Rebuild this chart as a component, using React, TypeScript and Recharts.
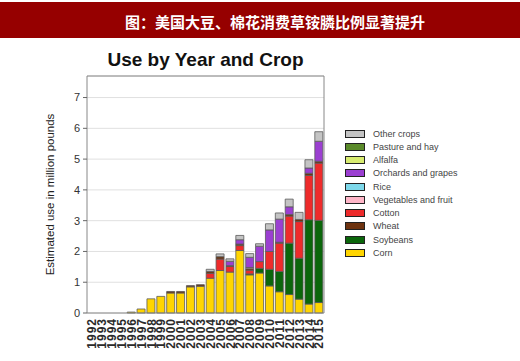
import React from 'react';
import { BarChart, Bar, XAxis, YAxis, CartesianGrid } from 'recharts';

const years = [1992, 1993, 1994, 1995, 1996, 1997, 1998, 1999, 2000, 2001, 2002, 2003,
  2004, 2005, 2006, 2007, 2008, 2009, 2010, 2011, 2012, 2013, 2014, 2015];

const corn = [0, 0, 0, 0, 0.03, 0.13, 0.46, 0.54, 0.65, 0.65, 0.85, 0.87,
  1.13, 1.38, 1.33, 2.03, 1.24, 1.3, 0.88, 0.69, 0.6, 0.45, 0.29, 0.34];
const soybeans = [0, 0, 0, 0, 0, 0, 0, 0, 0, 0, 0, 0,
  0, 0, 0, 0, 0.03, 0.15, 0.54, 0.66, 1.67, 1.33, 2.74, 2.67];
const cotton = [0, 0, 0, 0, 0, 0, 0, 0, 0, 0, 0, 0,
  0.16, 0.37, 0.18, 0.16, 0.12, 0.22, 0.58, 0.92, 0.88, 1.19, 1.44, 1.86];
const wheat = [0, 0, 0, 0, 0, 0, 0, 0, 0.05, 0.05, 0.04, 0.05,
  0.06, 0.08, 0.03, 0.05, 0.05, 0, 0, 0.03, 0.05, 0.07, 0.07, 0.06];
const vegetables = [0, 0, 0, 0, 0, 0, 0, 0, 0, 0, 0, 0,
  0, 0, 0, 0, 0.04, 0, 0, 0, 0, 0, 0, 0];
const rice = [0, 0, 0, 0, 0, 0, 0, 0, 0, 0, 0, 0,
  0, 0, 0, 0, 0, 0, 0, 0, 0, 0, 0, 0];
const orchards = [0, 0, 0, 0, 0, 0, 0, 0, 0, 0, 0, 0,
  0, 0, 0.14, 0.14, 0.33, 0.5, 0.7, 0.75, 0.25, 0, 0.17, 0.65];
const alfalfa = [0, 0, 0, 0, 0, 0, 0, 0, 0, 0, 0, 0,
  0, 0, 0, 0, 0, 0, 0, 0, 0, 0, 0, 0];
const pasture = [0, 0, 0, 0, 0, 0, 0, 0, 0, 0, 0, 0,
  0, 0, 0, 0, 0, 0, 0, 0, 0, 0, 0, 0];
const other = [0, 0, 0, 0, 0, 0, 0, 0, 0, 0, 0, 0,
  0.07, 0.09, 0.08, 0.14, 0.12, 0.08, 0.2, 0.2, 0.25, 0.23, 0.27, 0.31];

const yTicks = [0, 1, 2, 3, 4, 5, 6, 7];

// bottom to top
const crops = [
  { key: 'corn', name: 'Corn', color: '#ffd500', values: corn },
  { key: 'soybeans', name: 'Soybeans', color: '#0b660b', values: soybeans },
  { key: 'cotton', name: 'Cotton', color: '#ee2b2b', values: cotton },
  { key: 'wheat', name: 'Wheat', color: '#6e3310', values: wheat },
  { key: 'vegetables', name: 'Vegetables and fruit', color: '#ffb6c8', values: vegetables },
  { key: 'rice', name: 'Rice', color: '#7dd8ea', values: rice },
  { key: 'orchards', name: 'Orchards and grapes', color: '#9b3fd1', values: orchards },
  { key: 'alfalfa', name: 'Alfalfa', color: '#d8ec70', values: alfalfa },
  { key: 'pasture', name: 'Pasture and hay', color: '#5a8a2a', values: pasture },
  { key: 'other', name: 'Other crops', color: '#c4c4c4', values: other },
];

const legendOrder = ['other', 'pasture', 'alfalfa', 'orchards', 'rice', 'vegetables', 'cotton', 'wheat', 'soybeans', 'corn'];

const rows = years.map((y, i) => {
  const row: any = { year: String(y) };
  crops.forEach(c => { row[c.key] = c.values[i]; });
  return row;
});

const YearTick = ({ x, y, payload }: any) => (
  <text
    x={x}
    y={y}
    dy="0.36em"
    transform={`rotate(-90 ${x} ${y})`}
    textAnchor="end"
    fontSize={12}
    fontWeight="bold"
    letterSpacing={1}
    fill="#2a2a2a"
    fontFamily="'Liberation Sans', Arial, sans-serif"
  >
    {payload.value}
  </text>
);

const Legend = () => (
  <div style={{ position: 'absolute', left: 345, top: 127, fontFamily: "'Liberation Sans', Arial, sans-serif" }}>
    {legendOrder.map(k => {
      const c = crops.find(cc => cc.key === k)!;
      return (
        <div key={k} style={{ height: 13.27, display: 'flex', alignItems: 'center' }}>
          <div style={{ width: 20, height: 8, boxSizing: 'border-box', border: '1.5px solid #222', background: c.color }} />
          <span style={{ marginLeft: 8, fontSize: 9, color: '#444', whiteSpace: 'nowrap' }}>{c.name}</span>
        </div>
      );
    })}
  </div>
);

export default function App() {
  return (
    <div style={{ position: 'absolute', left: 0, top: 0, width: 520, height: 361, background: '#fff', overflow: 'hidden' }}>
      <div style={{
        position: 'absolute', left: 0, top: 2, width: 520, height: 36, background: '#960000',
        color: '#fff', fontSize: 15, lineHeight: '40px', textAlign: 'center', paddingLeft: 30, boxSizing: 'border-box',
        fontWeight: 'bold', fontFamily: "'Noto Sans CJK SC', sans-serif",
      }}>
        图：美国大豆、棉花消费草铵膦比例显著提升
      </div>
      <div style={{
        position: 'absolute', left: 87, top: 50, width: 237, textAlign: 'center', fontSize: 19, lineHeight: '19px',
        fontWeight: 'bold', color: '#111', fontFamily: "'Liberation Sans', Arial, sans-serif", whiteSpace: 'nowrap',
      }}>
        Use by Year and Crop
      </div>
      <div style={{ position: 'absolute', left: 0, top: 0 }}>
        <BarChart width={520} height={361} data={rows} margin={{ top: 75, right: 195, bottom: 3, left: 42 }} barCategoryGap="7%">
          <CartesianGrid vertical={false} stroke="#e0e0e0" />
          <XAxis dataKey="year" interval={0} height={45} tick={<YearTick />} tickLine={false} tickSize={0} tickMargin={5}
            axisLine={{ stroke: '#888' }} />
          <XAxis xAxisId="top" dataKey="year" orientation="top" height={1} tick={false} tickLine={false} axisLine={{ stroke: '#888' }} />
          <YAxis
            domain={[0, 7.7]}
            ticks={yTicks}
            width={45}
            tickSize={4}
            tickMargin={3}
            tick={{ fontSize: 11, fill: '#333', fontFamily: "'Liberation Sans', Arial, sans-serif" }}
            tickLine={{ stroke: '#666' }}
            axisLine={{ stroke: '#888' }}
            label={{
              value: 'Estimated use in million pounds', angle: -90, position: 'insideLeft', offset: 8,
              style: { textAnchor: 'middle', fontSize: 11.5, fill: '#222', fontFamily: "'Liberation Sans', Arial, sans-serif" },
            }}
          />
          <YAxis yAxisId="right" orientation="right" width={1} domain={[0, 1]} tick={false} tickLine={false} axisLine={{ stroke: '#888' }} />
          {crops.map(c => (
            <Bar key={c.key} dataKey={c.key} name={c.name} stackId="a" fill={c.color}
              stroke="#5a5a5a" strokeWidth={0.8} isAnimationActive={false} />
          ))}
        </BarChart>
      </div>
      <Legend />
    </div>
  );
}
